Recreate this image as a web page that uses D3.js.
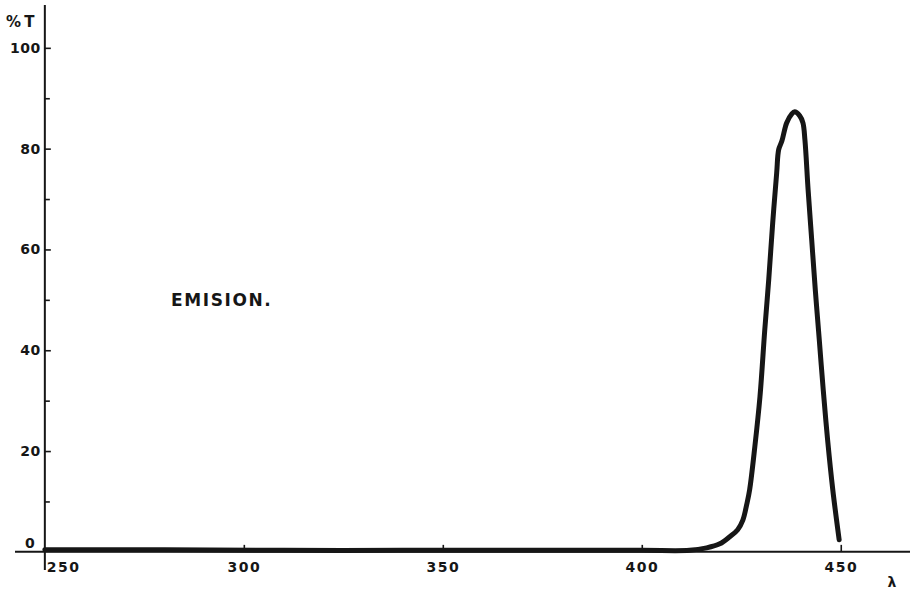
<!DOCTYPE html>
<html>
<head>
<meta charset="utf-8">
<script src="https://cdn.jsdelivr.net/npm/d3@7"></script>
<style>
  html, body { margin: 0; padding: 0; background: #fff; }
  svg { display: block; }
  .lbl { font-family: "DejaVu Sans", sans-serif; font-weight: bold; fill: #161616; }
</style>
</head>
<body>
<svg id="chart" width="918" height="591"></svg>
<script>
// Emission spectrum: percent transmission vs wavelength (nm)
const wavelength = [250, 280, 310, 340, 370, 400, 412, 416.3, 419.6, 422.1, 424.1, 425.4, 426.4,
  427.1, 428.4, 429.7, 430.9, 431.9, 432.9, 433.9, 434.4, 435.2, 436.4, 437.7, 438.4, 439.7,
  440.5, 441.0, 441.8, 442.7, 443.6, 444.6, 445.6, 446.7, 448.0, 449.6];
const transmission = [0.4, 0.4, 0.3, 0.3, 0.3, 0.3, 0.3, 0.8, 1.6, 3.0, 4.4, 6.3, 9.5,
  12.3, 20.8, 30.8, 44.0, 54.0, 65.3, 75.2, 79.8, 81.5, 85.1, 86.9, 87.3, 86.5,
  85.1, 81.7, 71.8, 61.9, 52.0, 42.1, 32.1, 22.2, 12.3, 2.4];

const xTicks = [300, 350, 400, 450];
const xFirstTick = 250;
const yMajorTicks = [20, 40, 60, 80, 100];
const yMinorTicks = [10, 30, 50, 70, 90];
const yZeroLabel = "0";
const yTitle = "% T";
const xTitle = "λ";
const note = "EMISION.";

const svg = d3.select("#chart");
const ink = "#161616";

// axis extents run a little beyond the data range on each side
const x = d3.scaleLinear().domain([242.5, 467.4]).range([15, 910]);
const y = d3.scaleLinear().domain([-3.6, 108.5]).range([570, 5]);

const x0 = x(xFirstTick);   // vertical axis sits at 250
const y0 = y(0);            // horizontal axis sits at 0 %

// horizontal axis, ticks pointing up
const gx = svg.append("g").attr("transform", `translate(0,${y0})`)
  .call(d3.axisBottom(x).tickValues(xTicks).tickSize(-7).tickPadding(10)
    .tickFormat(d3.format("d")));
gx.select(".domain").attr("stroke", ink).attr("stroke-width", 2).attr("d", `M${x.range()[0]},0H${x.range()[1]}`);
gx.selectAll(".tick line").attr("stroke", ink).attr("stroke-width", 1.6);
gx.selectAll(".tick text").attr("class", "lbl").style("font-size", "14px").style("letter-spacing", "1.5px");

// 250 label sits to the right of the vertical axis
svg.append("text").attr("class", "lbl")
  .attr("x", x0 + 2).attr("y", y0 + 20).style("font-size", "14px").style("letter-spacing", "1.5px")
  .text(xFirstTick);

// vertical axis, ticks pointing right
const gy = svg.append("g").attr("transform", `translate(${x0},0)`)
  .call(d3.axisLeft(y).tickValues(yMajorTicks).tickSize(-6).tickPadding(4)
    .tickFormat(d3.format("d")));
gy.select(".domain").attr("stroke", ink).attr("stroke-width", 2).attr("d", `M0,${y.range()[0]}V${y.range()[1]}`);
gy.selectAll(".tick line").attr("stroke", ink).attr("stroke-width", 1.6);
gy.selectAll(".tick text").attr("class", "lbl").style("font-size", "14px").style("letter-spacing", "0.5px");

const gyMinor = svg.append("g").attr("transform", `translate(${x0},0)`)
  .call(d3.axisLeft(y).tickValues(yMinorTicks).tickSize(-5).tickFormat(""));
gyMinor.select(".domain").remove();
gyMinor.selectAll(".tick line").attr("stroke", ink).attr("stroke-width", 1.6);

// zero label above the horizontal axis
svg.append("text").attr("class", "lbl")
  .attr("x", x0 - 10).attr("y", y0 - 4).attr("text-anchor", "end")
  .style("font-size", "14px").text(yZeroLabel);

// axis titles
svg.append("text").attr("class", "lbl")
  .attr("x", 6).attr("y", 27).style("font-size", "15px").style("letter-spacing", "-1px")
  .text(yTitle);
svg.append("text").attr("class", "lbl")
  .attr("x", 892).attr("y", 587).attr("text-anchor", "middle")
  .style("font-size", "14px").text(xTitle);

// curve label
svg.append("text").attr("class", "lbl")
  .attr("x", 171).attr("y", 306).style("font-size", "17px").style("letter-spacing", "1.6px")
  .text(note);

// emission curve
const pts = wavelength.map((w, i) => [w, transmission[i]]);
const line = d3.line().x(d => x(d[0])).y(d => y(d[1])).curve(d3.curveCatmullRom.alpha(0.5));
svg.append("path").datum(pts)
  .attr("d", line)
  .attr("fill", "none")
  .attr("stroke", ink)
  .attr("stroke-width", 5)
  .attr("stroke-linecap", "round")
  .attr("stroke-linejoin", "round");
</script>
</body>
</html>
